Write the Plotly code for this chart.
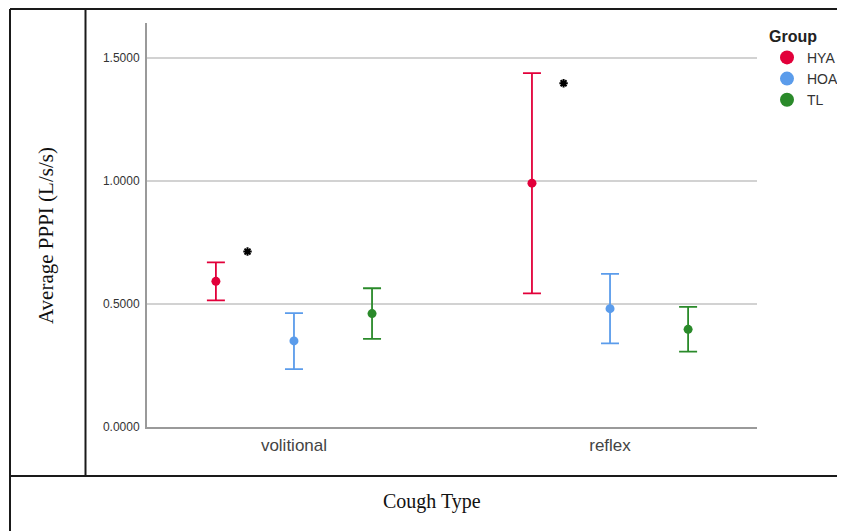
import plotly.graph_objects as go

# ---- data ----
categories = ["volitional", "reflex"]
groups = ["HYA", "HOA", "TL"]

hya_mean = [0.592, 0.991]
hya_upper = [0.669, 1.438]
hya_lower = [0.515, 0.543]

hoa_mean = [0.350, 0.481]
hoa_upper = [0.463, 0.622]
hoa_lower = [0.235, 0.340]

tl_mean = [0.461, 0.397]
tl_upper = [0.564, 0.488]
tl_lower = [0.358, 0.306]

sig_labels = ["*", "*"]
sig_y = [0.713, 1.397]

y_ticks = [0.0, 0.5, 1.0, 1.5]

# ---- style ----
colors = {"HYA": "#E2003A", "HOA": "#5B9CEB", "TL": "#2A8A2A"}
offsets = {"HYA": -0.247, "HOA": 0.0, "TL": 0.247}
series = {
    "HYA": (hya_mean, hya_upper, hya_lower),
    "HOA": (hoa_mean, hoa_upper, hoa_lower),
    "TL": (tl_mean, tl_upper, tl_lower),
}

fig = go.Figure()
cat_idx = list(range(len(categories)))

for g in groups:
    m, up, lo = series[g]
    xs = [i + offsets[g] for i in cat_idx]
    fig.add_trace(go.Scatter(
        x=xs, y=m, mode="markers", name=g, showlegend=False,
        marker=dict(size=9, color=colors[g]),
        error_y=dict(type="data", symmetric=False,
                     array=[u - v for u, v in zip(up, m)],
                     arrayminus=[v - l for v, l in zip(m, lo)],
                     color=colors[g], thickness=1.8, width=9),
    ))
    # legend proxy
    fig.add_trace(go.Scatter(
        x=[None], y=[None], mode="markers", name=g, showlegend=True,
        marker=dict(size=14, color=colors[g]),
    ))

# significance markers (placed beside HYA bars)
sig_x = [i + offsets["HYA"] + 0.1 for i in cat_idx]
fig.add_trace(go.Scatter(
    x=sig_x, y=sig_y, mode="markers", showlegend=False, text=sig_labels,
    marker=dict(symbol="asterisk-open", size=7, color="black",
                line=dict(color="black", width=2)),
    hoverinfo="skip",
))

# page body has an 8px margin: figure is sized/positioned to compensate
OFF = 8
SW, SH = 845, 531            # screen size
W, H = SW - OFF, SH - OFF    # figure size
# plot area in screen pixels
X0, X1, Y0, Y1 = 147, 757, 23, 427
L, R, T, B = X0 - OFF, W - (X1 - OFF), Y0 - OFF, H - (Y1 - OFF)
pw, ph = X1 - X0, Y1 - Y0

def px(p):   # screen x -> paper
    return (p - X0) / pw

def py(p):   # screen y -> paper
    return (Y1 - p) / ph

line = dict(color="#1a1a1a", width=2)
shapes = [
    dict(type="line", xref="paper", yref="paper", x0=px(10), x1=px(SW + 5), y0=py(9), y1=py(9), line=line),
    dict(type="line", xref="paper", yref="paper", x0=px(10), x1=px(10), y0=py(9), y1=py(SH + 5), line=line),
    dict(type="line", xref="paper", yref="paper", x0=px(10), x1=px(SW + 5), y0=py(476), y1=py(476), line=line),
    dict(type="line", xref="paper", yref="paper", x0=px(85.5), x1=px(85.5), y0=py(9), y1=py(476), line=line),
]

annotations = [
    dict(text="Average PPPI (L/s/s)", xref="paper", yref="paper", x=px(46), y=py(236),
         textangle=-90, showarrow=False, xanchor="center", yanchor="middle",
         font=dict(family="Liberation Serif", size=21, color="#111")),
    dict(text="Cough Type", xref="paper", yref="paper", x=px(432), y=py(501),
         showarrow=False, xanchor="center", yanchor="middle",
         font=dict(family="Liberation Serif", size=20, color="#111")),
]

fig.update_layout(
    width=W, height=H,
    margin=dict(l=L, r=R, t=T, b=B, autoexpand=False),
    paper_bgcolor="white", plot_bgcolor="white",
    shapes=shapes, annotations=annotations,
    showlegend=True,
    legend=dict(
        title=dict(text="<b>Group</b>", font=dict(family="Liberation Sans", size=16, color="#222")),
        font=dict(family="Liberation Sans", size=14, color="#333"),
        x=px(767), y=py(21), xanchor="left", yanchor="top",
        bgcolor="rgba(0,0,0,0)", itemwidth=30, tracegroupgap=0,
    ),
    xaxis=dict(
        range=[-0.465, 1.465], tickmode="array", tickvals=cat_idx, ticktext=categories,
        showgrid=False, zeroline=False, showline=True, linecolor="#9a9a9a", linewidth=2,
        ticks="", ticklabelstandoff=2,
        tickfont=dict(family="Liberation Sans", size=17, color="#444"),
    ),
    yaxis=dict(
        range=[0, 1.642], tickmode="array", tickvals=y_ticks, tickformat=".4f",
        showgrid=True, gridcolor="#d2d2d2", gridwidth=1.6, zeroline=False,
        showline=True, linecolor="#9a9a9a", linewidth=2, ticks="", ticklabelstandoff=3,
        tickfont=dict(family="Liberation Sans", size=12, color="#333"),
    ),
)

fig.write_html("out.html")
